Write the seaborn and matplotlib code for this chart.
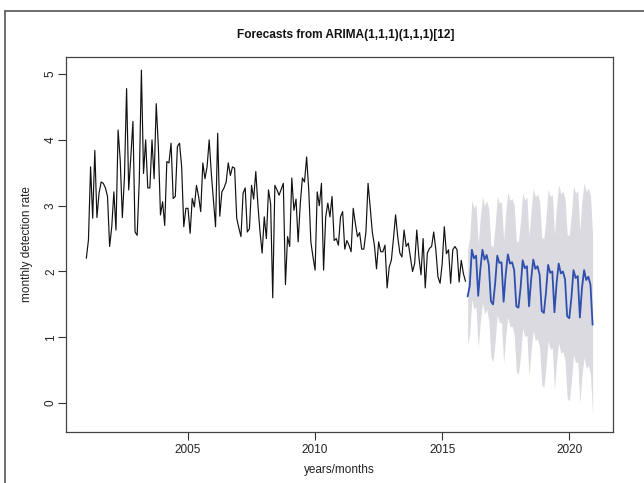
import numpy as np
import pandas as pd
import matplotlib
matplotlib.use("Agg")
import matplotlib.pyplot as plt
from matplotlib.lines import Line2D
import seaborn as sns

# observed monthly detection rate, Jan 2001 - Dec 2015
observed = [
    2.2, 2.48, 3.59, 2.81, 3.84, 2.82, 3.19, 3.36, 3.34, 3.27, 3.14, 2.38,
    2.68, 3.21, 2.63, 4.15, 3.69, 2.82, 3.44, 4.78, 3.24, 3.74, 4.28, 2.6,
    2.55, 3.39, 5.06, 3.49, 4.0, 3.27, 3.27, 4.0, 3.41, 4.55, 3.9, 2.86,
    3.06, 2.7, 3.67, 3.65, 3.95, 3.11, 3.14, 3.9, 3.95, 3.59, 2.68, 2.96,
    2.96, 2.58, 3.11, 2.98, 3.31, 3.14, 2.91, 3.65, 3.41, 3.59, 4.0, 3.49,
    3.09, 2.68, 4.1, 2.84, 3.21, 3.27, 3.36, 3.65, 3.46, 3.59, 3.57, 2.81,
    2.66,
    2.53, 3.19, 3.27, 2.6, 2.65, 3.31, 3.1, 3.52, 3.01, 2.6, 2.28, 2.83,
    2.5, 3.24, 3.03, 1.6, 3.31, 3.24, 3.16, 3.25, 3.34, 1.8, 2.53, 2.38,
    3.42, 2.93, 3.1, 2.45, 3.03, 3.42, 3.36, 3.74, 3.24, 2.45, 2.22, 2.02,
    3.21, 3.0, 3.34, 2.02, 2.83, 3.04, 2.83, 3.14, 2.47, 2.5, 2.4, 2.83,
    2.91, 2.34, 2.47, 2.4, 2.3, 2.96, 2.73, 2.53, 2.59, 2.34, 2.34, 2.6,
    3.34, 2.98, 2.6, 2.4, 2.04, 2.45, 2.3, 2.3, 2.4, 1.75, 2.07, 2.17,
    2.5, 2.86, 2.53, 2.28, 2.22, 2.63, 2.38, 2.43, 2.22, 2.0, 2.12,
    2.63, 2.22, 1.95, 2.5, 1.75, 2.28, 2.35, 2.38, 2.6, 2.33, 1.92, 1.82,
    2.12, 2.68, 2.27, 2.33, 1.82, 2.33, 2.38, 2.33, 1.84, 2.17, 1.97, 1.85,
]

# point forecasts Jan 2016 - Dec 2020
forecast = [
    1.62, 1.78, 2.33, 2.20, 2.24, 1.63, 2.03, 2.33, 2.18, 2.25, 2.10, 1.55,
    1.50, 1.82, 2.24, 2.13, 2.14, 1.54, 1.96, 2.26, 2.12, 2.14, 2.02, 1.47,
    1.45, 1.75, 2.17, 2.05, 2.08, 1.47, 1.88, 2.18, 2.04, 2.08, 1.95, 1.40,
    1.37, 1.68, 2.10, 1.98, 2.00, 1.38, 1.82, 2.12, 1.97, 2.00, 1.88, 1.32,
    1.29, 1.60, 2.02, 1.90, 1.93, 1.30, 1.75, 2.02, 1.87, 1.92, 1.80, 1.19,
]
upper = [
    2.34, 2.52, 3.08, 2.97, 3.02, 2.42, 2.83, 3.14, 3.00, 3.08, 2.94, 2.40,
    2.37, 2.70, 3.14, 3.04, 3.06, 2.47, 2.90, 3.21, 3.08, 3.11, 3.00, 2.46,
    2.46, 2.77, 3.20, 3.09, 3.13, 2.53, 2.95, 3.26, 3.13, 3.18, 3.06, 2.52,
    2.50, 2.82, 3.25, 3.14, 3.17, 2.56, 3.01, 3.32, 3.18, 3.22, 3.11, 2.56,
    2.55, 2.87, 3.30, 3.19, 3.23, 2.61, 3.07, 3.35, 3.21, 3.27, 3.16, 2.56,
]
lower = [
    0.90, 1.04, 1.58, 1.43, 1.46, 0.84, 1.23, 1.52, 1.36, 1.42, 1.26, 0.70,
    0.63, 0.94, 1.34, 1.22, 1.22, 0.61, 1.02, 1.31, 1.16, 1.17, 1.04, 0.48,
    0.44, 0.73, 1.14, 1.01, 1.03, 0.41, 0.81, 1.10, 0.95, 0.98, 0.84, 0.28,
    0.24, 0.54, 0.95, 0.82, 0.83, 0.20, 0.63, 0.92, 0.76, 0.78, 0.65, 0.08,
    0.03, 0.33, 0.74, 0.61, 0.63, -0.01, 0.43, 0.69, 0.53, 0.57, 0.44, -0.18,
]
x_ticks = [2005, 2010, 2015, 2020]
y_ticks = [0, 1, 2, 3, 4, 5]

start_obs = 2001.0
start_fc = 2016.0
t_obs = start_obs + np.arange(len(observed)) / 12.0
t_fc = start_fc + np.arange(len(forecast)) / 12.0
df_obs = pd.DataFrame({"t": t_obs, "v": observed})
df_fc = pd.DataFrame({"t": t_fc, "v": forecast, "lo": lower, "hi": upper})

sns.set_theme(style="ticks")
plt.rcParams["font.family"] = ["Liberation Sans", "DejaVu Sans"]

W, H = 644, 483
fig = plt.figure(figsize=(W / 100, H / 100), dpi=100)
L, R, T, B = 66, 613, 57, 432
ax = fig.add_axes([L / W, 1 - B / H, (R - L) / W, (B - T) / H])

ax.fill_between(df_fc["t"], df_fc["lo"], df_fc["hi"], color="#DADAE0", linewidth=0, zorder=1)
sns.lineplot(data=df_obs, x="t", y="v", ax=ax, color="#111111", linewidth=0.85,
             estimator=None, sort=False, zorder=3)
sns.lineplot(data=df_fc, x="t", y="v", ax=ax, color="#2F4FAF", linewidth=1.3,
             estimator=None, sort=False, zorder=4)

ax.set_xlim(2000.2, 2021.72)
ax.set_ylim(-0.44, 5.26)
ax.set_xticks(x_ticks)
ax.set_xticklabels([str(v) for v in x_ticks])
ax.set_yticks(y_ticks)
ax.set_yticklabels([str(v) for v in y_ticks], rotation=90, va="center")
ax.tick_params(axis="both", direction="out", length=6, width=0.8, color="#333333",
               labelsize=8.5, labelcolor="#222222")
ax.tick_params(axis="x", pad=2.5)
ax.tick_params(axis="y", pad=0.5)
for s in ax.spines.values():
    s.set_visible(True)
    s.set_color("#444444")
    s.set_linewidth(0.9)
ax.set_xlabel("")
ax.set_ylabel("")

fig.text(346 / W, 1 - 35 / H, "Forecasts from ARIMA(1,1,1)(1,1,1)[12]",
         ha="center", va="center", fontsize=8.6, fontweight="bold", color="#111111")
fig.text((L + R) / 2 / W, 1 - 470 / H, "years/months", ha="center", va="center",
         fontsize=8.5, color="#222222")
fig.text(27 / W, 1 - ((T + B) / 2) / H, "monthly detection rate", ha="center", va="center",
         rotation=90, fontsize=8.5, color="#222222")

# screenshot frame
fig.add_artist(Line2D([4.5 / W, 4.5 / W], [0, 1 - 11 / H], transform=fig.transFigure,
                      color="#555555", linewidth=1.2))
fig.add_artist(Line2D([4.5 / W, 1], [1 - 11 / H, 1 - 11 / H], transform=fig.transFigure,
                      color="#555555", linewidth=1.2))

fig.savefig("out.png", dpi=100)
